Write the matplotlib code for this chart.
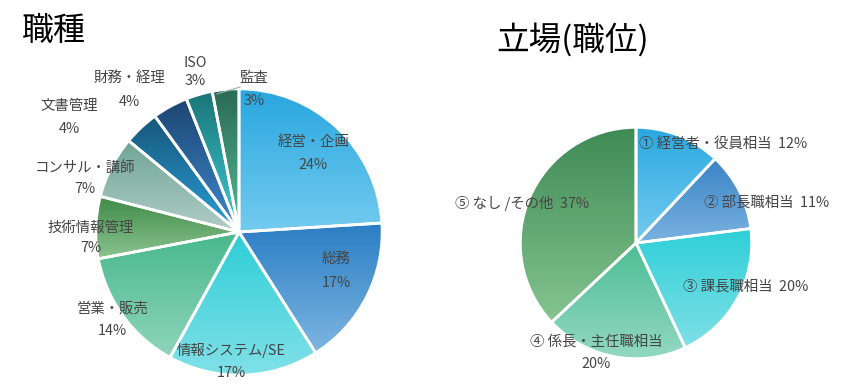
import numpy as np
import matplotlib
matplotlib.use("Agg")
import matplotlib.pyplot as plt
from matplotlib.colors import to_rgb

plt.rcParams['font.family'] = ['Noto Sans CJK JP', 'DejaVu Sans']

# ---------------- data ----------------
left_title = "職種"
left_labels = ["経営・企画", "総務", "情報システム/SE", "営業・販売", "技術情報管理",
               "コンサル・講師", "文書管理", "財務・経理", "ISO", "監査"]
left_values = [24, 17, 17, 14, 7, 7, 4, 4, 3, 3]

right_title = "立場(職位)"
right_labels = ["① 経営者・役員相当", "② 部長職相当", "③ 課長職相当",
                "④ 係長・主任職相当", "⑤ なし /その他"]
right_values = [12, 11, 20, 20, 37]

# ---------------- styles ----------------
left_colors = [("#28a6df", "#74cbef"), ("#2a7ec3", "#7db5e2"), ("#2dcdd6", "#82e1e8"),
               ("#47b88c", "#8fd5bd"), ("#3e8a48", "#8cc490"), ("#6fa596", "#b0cdc6"),
               ("#17577a", "#2a9fd8"), ("#1c4570", "#3f8ad0"), ("#1a7478", "#40cdd5"),
               ("#2a6a55", "#55bb95")]
right_colors = [("#2aa8e0", "#76cbee"), ("#3a84c6", "#7ab2e0"), ("#2ecfd8", "#80e0e6"),
                ("#4dbd96", "#94d9c2"), ("#3e8a55", "#85c490")]

W, H = 853, 390
fig = plt.figure(figsize=(W / 100, H / 100), dpi=100)
TXT = "#454545"


def px(x, y):
    return x / W, 1 - y / H


def make_pie(cx, cy, r, values, colors):
    ax = fig.add_axes([(cx - r) / W, (H - cy - r) / H, 2 * r / W, 2 * r / H])
    wedges, _ = ax.pie(values, startangle=90, counterclock=False, radius=1,
                       wedgeprops=dict(edgecolor="white", linewidth=2))
    for w, (c1, c2) in zip(wedges, colors):
        v = w.get_path().vertices
        x0, x1 = v[:, 0].min(), v[:, 0].max()
        y0, y1 = v[:, 1].min(), v[:, 1].max()
        t = np.linspace(0, 1, 256)[:, None]
        grad = (1 - t) * np.array(to_rgb(c1)) + t * np.array(to_rgb(c2))
        img = ax.imshow(grad[:, None, :], extent=(x0, x1, y0, y1), origin="upper",
                        aspect="auto", zorder=1, interpolation="bilinear")
        img.set_clip_path(w)
        w.set_facecolor("none")
        w.set_zorder(2)
    ax.set_xlim(-1.02, 1.02)
    ax.set_ylim(-1.02, 1.02)
    ax.axis("off")
    return ax


make_pie(239, 232, 146, left_values, left_colors)
make_pie(636, 243, 118, right_values, right_colors)

# titles
fig.text(*px(22, 31), left_title, fontsize=23, color="black", ha="left", va="center")
fig.text(*px(496, 40), right_title, fontsize=23.5, color="black", ha="left", va="center")

FS = 10.4
# left labels: (name center x, name y, pct y)
left_pos = [(313, 142, 165), (336, 259, 283), (231, 350, 373), (112, 308, 331),
            (91, 228, 248), (85, 168, 189), (69, 106, 129), (129, 78, 102),
            (195, 63, 81), (254, 78, 101)]
for lab, val, (x, y1, y2) in zip(left_labels, left_values, left_pos):
    fig.text(*px(x, y1), lab, fontsize=FS, color=TXT, ha="center", va="center")
    fig.text(*px(x, y2), f"{val}%", fontsize=FS, color=TXT, ha="center", va="center")

# leader line for small slice
fig.add_artist(plt.Line2D([217 / W, 240 / W], [1 - 94 / H, 1 - 87 / H],
                          color="#9ab0a8", linewidth=0.8))

# right labels
right_pos = [(639, 145, "left"), (704, 203, "left"), (683, 287, "left"),
             (596, 342, "center"), (455, 203, "left")]
for i, (lab, val, (x, y, ha)) in enumerate(zip(right_labels, right_values, right_pos)):
    if i == 3:
        fig.text(*px(x, y), lab, fontsize=FS, color=TXT, ha="center", va="center")
        fig.text(*px(x, 364), f"{val}%", fontsize=FS, color=TXT, ha="center", va="center")
    else:
        fig.text(*px(x, y), f"{lab}  {val}%", fontsize=FS, color=TXT, ha=ha, va="center")

fig.savefig("out.png", dpi=100)
